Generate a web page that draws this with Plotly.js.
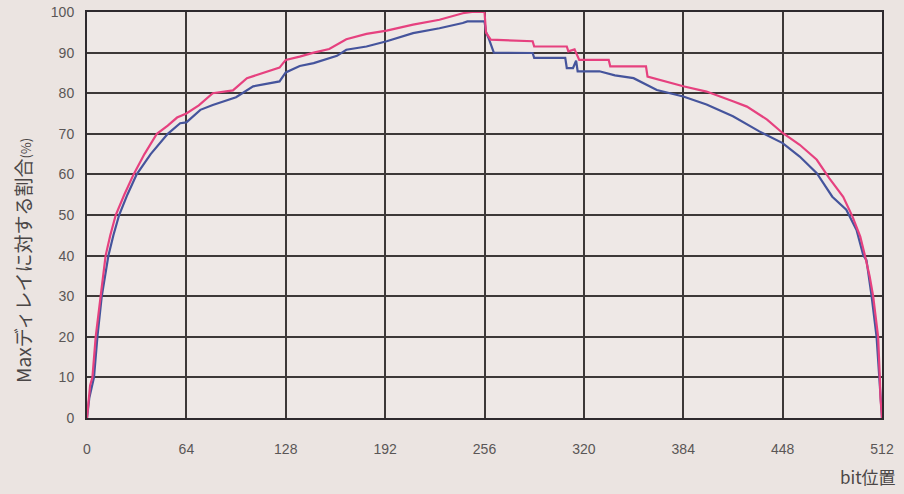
<!DOCTYPE html>
<html>
<head>
<meta charset="utf-8">
<script src="https://cdn.plot.ly/plotly-3.0.1.min.js"></script>
<style>html,body{margin:0;padding:0;background:#ebe4e1;}</style>
</head>
<body>
<div id="chart" style="width:904px;height:494px;"></div>
<script>
const xTicks = [0, 64, 128, 192, 256, 320, 384, 448, 512];
const yTicks = [0, 10, 20, 30, 40, 50, 60, 70, 80, 90, 100];

const pinkX = [0, 1, 2, 3.5, 5.6, 8.8, 12, 15, 18.5, 24, 30, 37, 45, 52, 58, 64, 72, 81, 94, 103, 113, 124, 128, 137, 146, 156, 167, 180, 193, 210, 227, 242, 248, 256, 257, 260, 287, 288, 309, 310, 314, 317, 336, 337, 360, 361, 384, 399, 416, 425, 438, 448, 459, 470, 478, 487, 493, 498, 501, 504, 506.3, 509.5, 510.6, 511, 512];
const pinkY = [0, 5, 8, 10, 20, 30, 40, 45, 50, 55, 60, 65, 70, 72, 74, 75, 77, 80, 80.7, 83.7, 85, 86.3, 88.2, 89, 90, 90.9, 93.3, 94.6, 95.4, 96.9, 98.1, 99.7, 100, 100, 94.9, 93.2, 92.8, 91.5, 91.5, 90.3, 90.8, 88.2, 88.2, 86.6, 86.6, 84.1, 81.7, 80.4, 78, 76.7, 73.5, 70.2, 67.3, 63.6, 59.1, 54.5, 49.6, 44.7, 40, 35, 30, 20, 10, 5, 0];

const blueX = [0, 1.5, 4.5, 6.7, 9.5, 13.8, 17, 20.7, 26, 32, 41, 52, 60, 64, 73, 81, 96, 107, 124, 128, 137, 146, 161, 167, 180, 193, 210, 227, 242, 245, 256, 257, 259, 262, 287, 288, 308, 309, 313, 315, 316, 330, 340, 352, 367, 384, 399, 416, 433, 448, 459, 470, 480, 489, 495.6, 500, 502, 505.3, 508.5, 510.2, 511.5, 512];
const blueY = [0, 5, 10, 20, 30, 40, 45, 50, 55, 60, 65, 70, 72.6, 72.8, 75.9, 77.1, 79, 81.7, 82.9, 85.1, 86.7, 87.4, 89.2, 90.7, 91.5, 92.8, 94.8, 96, 97.3, 97.7, 97.7, 95, 93.2, 90, 89.9, 88.7, 88.7, 86.2, 86.2, 88, 85.4, 85.4, 84.4, 83.7, 80.8, 79.2, 77.2, 74.3, 70.6, 67.7, 64.4, 60.3, 54.5, 51.3, 46.3, 40, 38.9, 30, 20, 10, 3, 0];

const traces = [
  {x: blueX, y: blueY, type: 'scatter', mode: 'lines', line: {color: '#45549c', width: 2.2}, hoverinfo: 'skip'},
  {x: pinkX, y: pinkY, type: 'scatter', mode: 'lines', line: {color: '#e6417f', width: 2.2}, hoverinfo: 'skip'}
];

const tickFont = {family: 'Liberation Sans, Arial, sans-serif', size: 14, color: '#5a5656'};

const layout = {
  width: 904, height: 494,
  margin: {l: 87, r: 22, t: 12, b: 76},
  paper_bgcolor: '#ebe4e1',
  plot_bgcolor: '#eee8e6',
  showlegend: false,
  xaxis: {
    range: [0, 512], tickvals: xTicks, ticktext: xTicks.map(String),
    showgrid: true, gridcolor: '#3d3838', gridwidth: 2,
    zeroline: false, showline: true, linecolor: '#2e2a2e', linewidth: 2, mirror: true,
    ticks: '', ticklabelstandoff: 17, tickfont: tickFont, fixedrange: true
  },
  yaxis: {
    range: [0, 100], tickvals: yTicks, ticktext: yTicks.map(String),
    showgrid: true, gridcolor: '#3d3838', gridwidth: 2,
    zeroline: false, showline: true, linecolor: '#2e2a2e', linewidth: 2, mirror: true,
    ticks: '', ticklabelstandoff: 8, tickfont: tickFont, fixedrange: true
  },
  annotations: [
    {text: 'bit位置', xref: 'paper', yref: 'paper', x: 1.02, y: -0.145, xanchor: 'right', yanchor: 'middle',
     showarrow: false, font: {family: 'Noto Sans CJK JP, sans-serif', size: 17, color: '#4a4646'}},
    {text: "Maxディレイに対する割合<span style='font-size:13px'>(%)</span>", xref: 'paper', yref: 'paper', x: -0.082, y: 0.389, xanchor: 'center', yanchor: 'middle',
     textangle: -90, showarrow: false, font: {family: 'Noto Sans CJK JP, sans-serif', size: 19, color: '#4a4646'}}
  ]
};

Plotly.newPlot('chart', traces, layout, {displayModeBar: false, staticPlot: true});
</script>
</body>
</html>
